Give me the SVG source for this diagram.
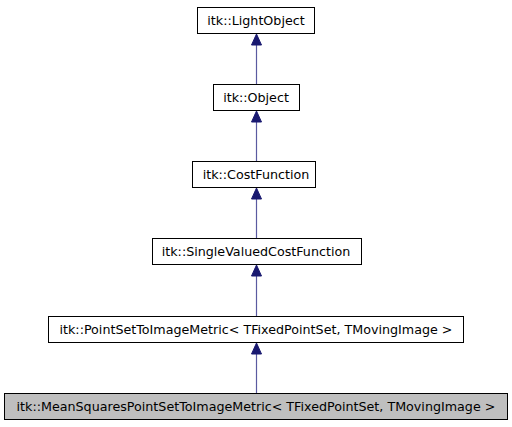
<svg xmlns="http://www.w3.org/2000/svg" width="512" height="427" viewBox="0 0 512 427">
<style>
.box{fill:#ffffff;stroke:#000000;stroke-width:1}
.cur{fill:#bfbfbf;stroke:#000000;stroke-width:1}
.lbl{font-family:"DejaVu Sans",sans-serif;font-size:12.7px;fill:#000000;text-anchor:middle}
.edge{stroke:#5a5aa0;stroke-width:1.2;fill:none}
.head{fill:#191970;stroke:#191970;stroke-width:1}
</style>
<rect width="512" height="427" fill="#ffffff"/>
<g id="connectors">
<line class="edge" x1="256.5" y1="45" x2="256.5" y2="84"/>
<polygon class="head" points="256.5,34 261.5,45 251.5,45"/>
<line class="edge" x1="256.5" y1="122" x2="256.5" y2="161"/>
<polygon class="head" points="256.5,111 261.5,122 251.5,122"/>
<line class="edge" x1="256.5" y1="199" x2="256.5" y2="238"/>
<polygon class="head" points="256.5,188 261.5,199 251.5,199"/>
<line class="edge" x1="256.5" y1="276" x2="256.5" y2="316"/>
<polygon class="head" points="256.5,265 261.5,276 251.5,276"/>
<line class="edge" x1="256.5" y1="354" x2="256.5" y2="393"/>
<polygon class="head" points="256.5,343 261.5,354 251.5,354"/>
</g>
<g id="node-lightobject">
<rect class="box" x="197.5" y="7.5" width="117" height="26"/>
<text class="lbl" x="256" y="25">itk::LightObject</text>
</g>
<g id="node-object">
<rect class="box" x="213.5" y="84.5" width="86" height="26"/>
<text class="lbl" x="256" y="102">itk::Object</text>
</g>
<g id="node-costfunction">
<rect class="box" x="192.5" y="161.5" width="123" height="26"/>
<text class="lbl" x="256" y="179">itk::CostFunction</text>
</g>
<g id="node-singlevalued">
<rect class="box" x="152.5" y="238.5" width="209" height="26"/>
<text class="lbl" x="256" y="256">itk::SingleValuedCostFunction</text>
</g>
<g id="node-pointsetmetric">
<rect class="box" x="48.5" y="316.5" width="415" height="26"/>
<text class="lbl" x="256" y="334">itk::PointSetToImageMetric&lt; TFixedPointSet, TMovingImage &gt;</text>
</g>
<g id="node-meansquares">
<rect class="cur" x="4.5" y="393.5" width="503" height="26"/>
<text class="lbl" x="256" y="411">itk::MeanSquaresPointSetToImageMetric&lt; TFixedPointSet, TMovingImage &gt;</text>
</g>
</svg>
